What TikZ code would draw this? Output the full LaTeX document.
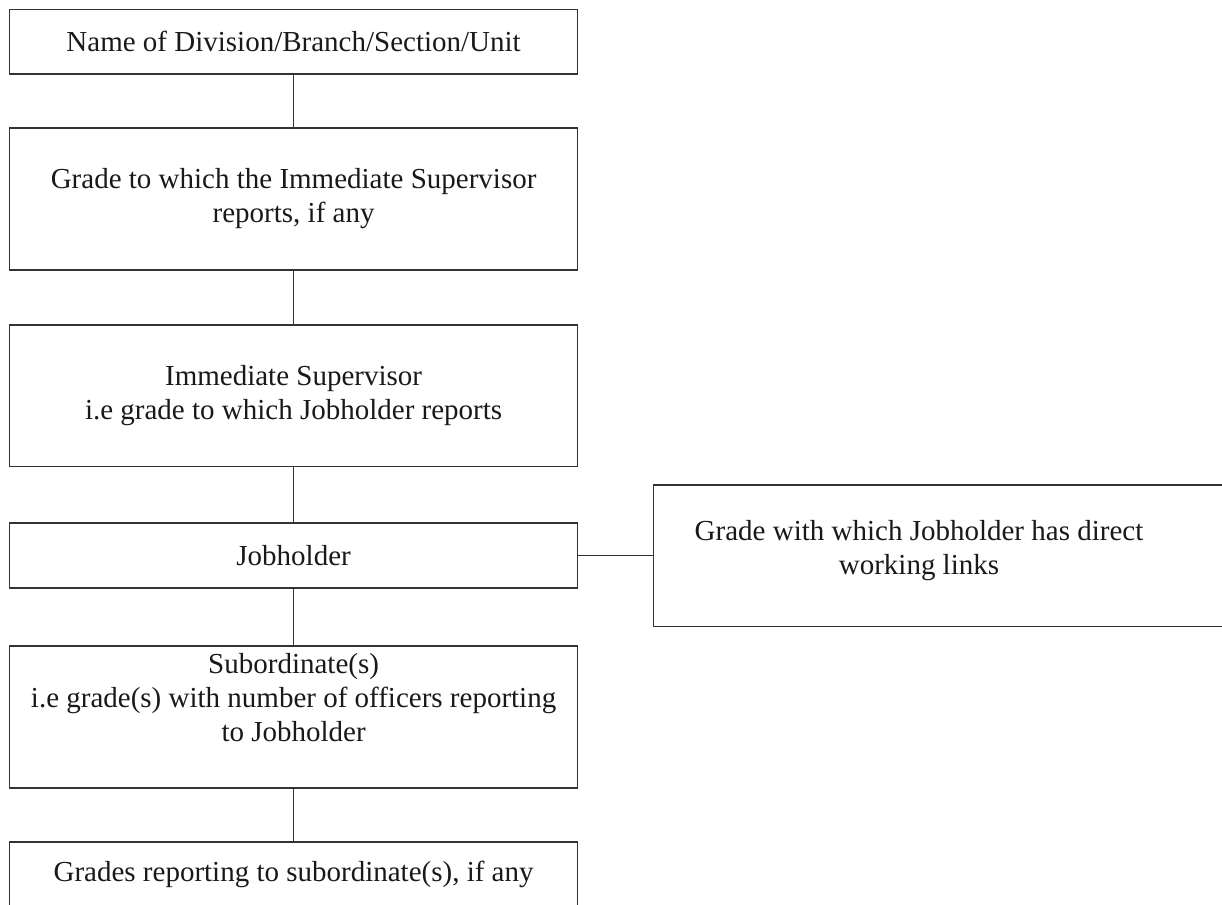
\documentclass[tikz,border=0pt]{standalone}
\usepackage{fontspec}
\setmainfont{Liberation Serif}
\usetikzlibrary{positioning}

\begin{document}
\begin{tikzpicture}[x=1pt,y=-1pt,
  every node/.style={font=\fontsize{29}{34}\selectfont, text=black!90},
  box/.style={draw=black!80, line width=1.2pt, minimum width=568pt, inner sep=0pt, align=center},
  textonly/.style={inner sep=0pt, align=center},
  link/.style={draw=black!80, line width=1.1pt}]

  \useasboundingbox (0,0) rectangle (1222,904);

  \node [box, minimum height=64.5pt] (division) at (293.6,41.75) {Name of Division/Branch/Section/Unit};
  \node [box, minimum height=142pt] (supgrade) at (293.6,199) {Grade to which the Immediate Supervisor\\ reports, if any};
  \node [box, minimum height=141.7pt] (supervisor) at (293.6,395.85) {Immediate Supervisor\\ i.e grade to which Jobholder reports};
  \node [box, minimum height=65pt] (jobholder) at (293.6,555.5) {Jobholder};

  % box with the working links, open to the right edge
  \node [box, minimum width=575pt, minimum height=141.7pt, anchor=west] (links) at (653,555.85) {};
  \node [textonly] (linkstext) at (919,551) {Grade with which Jobholder has direct\\ working links};

  \node [box, minimum height=142pt] (subordinate) at (293.6,717) {};
  \node [textonly] (subtext) at (293.6,698) {Subordinate(s)\\ i.e grade(s) with number of officers reporting\\ to Jobholder};

  \node [box, minimum height=65pt] (reporting) at (293.6,874.5) {Grades reporting to subordinate(s), if any};

  \draw [link] (division) -- (supgrade);
  \draw [link] (supgrade) -- (supervisor);
  \draw [link] (supervisor) -- (jobholder);
  \draw [link] (jobholder) -- (subordinate);
  \draw [link] (subordinate) -- (reporting);
  \draw [link] (jobholder.east) -- (links.west |- jobholder.east);

\end{tikzpicture}
\end{document}
